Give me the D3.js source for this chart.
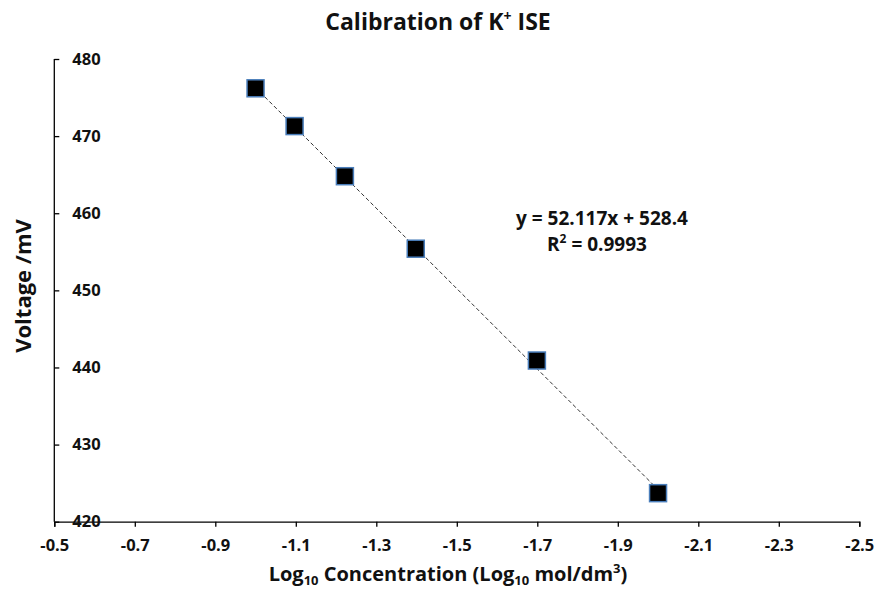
<!DOCTYPE html>
<html>
<head>
<meta charset="utf-8">
<script src="https://cdn.jsdelivr.net/npm/d3@7"></script>
<style>
  html, body { margin: 0; padding: 0; background: #fff; }
  svg { display: block; font-family: "Open Sans", Lato, sans-serif; }
</style>
</head>
<body>
<svg id="chart" width="877" height="592"></svg>
<script>
// ---- data ----
const logConc = [-1.0, -1.097, -1.222, -1.398, -1.699, -2.0];
const voltage = [476.2, 471.3, 464.8, 455.4, 440.9, 423.7];
const xTicks = [-0.5, -0.7, -0.9, -1.1, -1.3, -1.5, -1.7, -1.9, -2.1, -2.3, -2.5];
const yTicks = [420, 430, 440, 450, 460, 470, 480];
const fitSlope = 52.117;
const fitIntercept = 528.4;
const fitR2 = "0.9993";

(function () {
const FONT = "'Open Sans', Lato, sans-serif";
const svg = d3.select("#chart");
const pL = 54.3, pR = 859.3, pT = 59, pB = 521.7;

const x = d3.scaleLinear().domain([-0.5, -2.5]).range([pL, pR]);
const y = d3.scaleLinear().domain([420, 480]).range([pB, pT]);

// title
const title = svg.append("text")
  .attr("x", 438).attr("y", 30)
  .attr("text-anchor", "middle")
  .attr("font-size", 23).attr("font-weight", "bold").attr("fill", "#111");
title.append("tspan").text("Calibration of K");
title.append("tspan").attr("font-size", 14).attr("dy", -9).text("+");
title.append("tspan").attr("dy", 9).text(" ISE");

// x axis
const xAxis = d3.axisBottom(x).tickValues(xTicks).tickSize(5).tickPadding(13)
  .tickFormat(d => d.toFixed(1));
const gx = svg.append("g").attr("transform", `translate(0,${pB})`).call(xAxis);
gx.select(".domain").attr("stroke", "#000").attr("stroke-width", 1.3);
gx.selectAll(".tick line").attr("stroke", "#000").attr("stroke-width", 1.3);
gx.selectAll(".tick text").attr("font-size", 16.5).attr("font-weight", "bold")
  .attr("fill", "#111").attr("font-family", FONT);

// y axis (ticks pointing inward, labels to the right of the axis)
const yAxis = d3.axisRight(y).tickValues(yTicks).tickSize(5).tickPadding(13)
  .tickFormat(d3.format("d"));
const gy = svg.append("g").attr("transform", `translate(${pL},0)`).call(yAxis);
gy.select(".domain").attr("stroke", "#000").attr("stroke-width", 1.3)
  .attr("d", `M0,${pT}V${pB}`);
gy.selectAll(".tick line").attr("stroke", "#000").attr("stroke-width", 1.3);
gy.selectAll(".tick text").attr("font-size", 16.5).attr("font-weight", "bold")
  .attr("fill", "#111").attr("font-family", FONT);

// trendline
const xMin = d3.min(logConc), xMax = d3.max(logConc);
const fit = v => fitSlope * v + fitIntercept;
svg.append("line")
  .attr("x1", x(xMax)).attr("y1", y(fit(xMax)))
  .attr("x2", x(xMin)).attr("y2", y(fit(xMin)))
  .attr("stroke", "#333").attr("stroke-width", 1)
  .attr("stroke-dasharray", "4,2.5");

// markers
const ms = 17;
svg.append("g").selectAll("rect").data(logConc.map((v, i) => [v, voltage[i]]))
  .join("rect")
  .attr("x", d => x(d[0]) - ms / 2).attr("y", d => y(d[1]) - ms / 2)
  .attr("width", ms).attr("height", ms)
  .attr("fill", "#000").attr("stroke", "#4a7ebb").attr("stroke-width", 1.5);

// equation
svg.append("text").attr("x", 602).attr("y", 225).attr("text-anchor", "middle")
  .attr("font-size", 19).attr("font-weight", "bold").attr("fill", "#111")
  .text(`y = ${fitSlope}x + ${fitIntercept}`);
const r2 = svg.append("text").attr("x", 597).attr("y", 251).attr("text-anchor", "middle")
  .attr("font-size", 19).attr("font-weight", "bold").attr("fill", "#111");
r2.append("tspan").text("R");
r2.append("tspan").attr("font-size", 12).attr("dy", -8).text("2");
r2.append("tspan").attr("dy", 8).text(` = ${fitR2}`);

// y axis title
svg.append("text")
  .attr("transform", "translate(31,286) rotate(-90)")
  .attr("text-anchor", "middle")
  .attr("font-size", 22).attr("font-weight", "bold").attr("fill", "#111")
  .text("Voltage /mV");

// x axis title
const xt = svg.append("text").attr("x", 448).attr("y", 581).attr("text-anchor", "middle")
  .attr("font-size", 20).attr("font-weight", "bold").attr("fill", "#111");
xt.append("tspan").text("Log");
xt.append("tspan").attr("font-size", 13).attr("dy", 4).text("10");
xt.append("tspan").attr("dy", -4).text(" Concentration (Log");
xt.append("tspan").attr("font-size", 13).attr("dy", 4).text("10");
xt.append("tspan").attr("dy", -4).text(" mol/dm");
xt.append("tspan").attr("font-size", 13).attr("dy", -8).text("3");
xt.append("tspan").attr("dy", 8).text(")");
})();
</script>
</body>
</html>
